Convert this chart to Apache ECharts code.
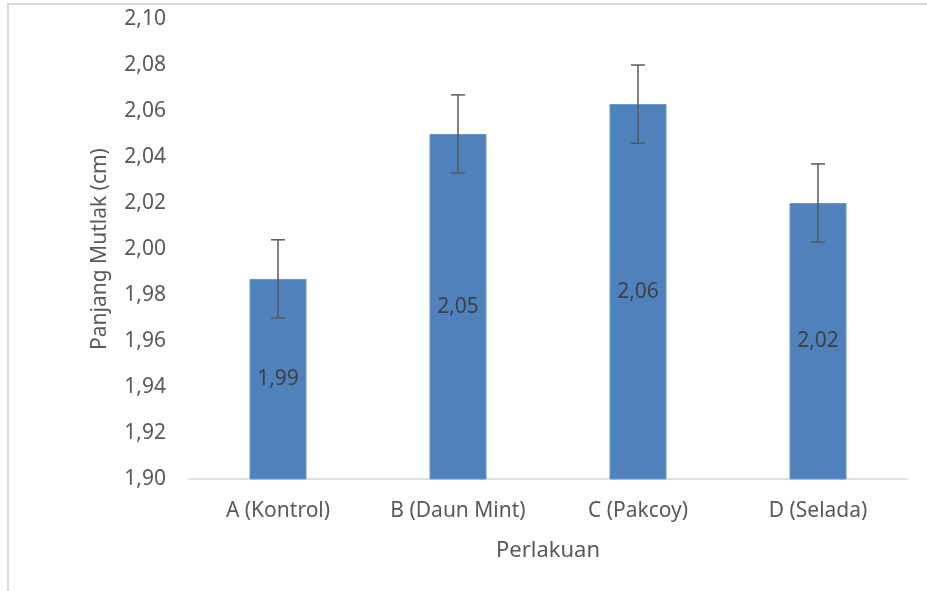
<!DOCTYPE html>
<html>
<head>
<meta charset="utf-8">
<script src="https://cdn.jsdelivr.net/npm/echarts@6/dist/echarts.min.js"></script>
<style>html,body{margin:0;padding:0;background:#fff;}#c{width:927px;height:591px;}</style>
</head>
<body>
<div id="c"></div>
<script>
const categories = ['A (Kontrol)', 'B (Daun Mint)', 'C (Pakcoy)', 'D (Selada)'];
const values = [1.987, 2.050, 2.063, 2.020];
const errors = [0.017, 0.017, 0.017, 0.017];
const yTicks = { min: 1.90, max: 2.10, interval: 0.02 };

const fmt = v => v.toFixed(2).replace('.', ',');
const FONT = 'Noto Sans';

const chart = echarts.init(document.getElementById('c'), null, { renderer: 'canvas' });
chart.setOption({
  animation: false,
  textStyle: { fontFamily: FONT },
  graphic: [{
    type: 'rect', shape: { x: 8, y: 4, width: 1000, height: 1000 },
    style: { fill: 'none', stroke: '#d9d9d9', lineWidth: 2 }, silent: true, z: -1
  }],
  grid: { left: 188, right: 19, top: 19, bottom: 112 },
  xAxis: {
    type: 'category', data: categories,
    name: 'Perlakuan', nameLocation: 'middle', nameGap: 61,
    nameTextStyle: { fontSize: 22, color: '#595959', fontFamily: FONT },
    axisLine: { lineStyle: { color: '#d9d9d9', width: 1.5 } },
    axisTick: { show: false },
    axisLabel: { fontSize: 21, color: '#595959', margin: 22, fontFamily: FONT }
  },
  yAxis: {
    type: 'value', min: yTicks.min, max: yTicks.max, interval: yTicks.interval,
    name: 'Panjang Mutlak (cm)', nameLocation: 'middle', nameGap: 77,
    nameTextStyle: { fontSize: 21, color: '#595959', fontFamily: FONT },
    axisLine: { show: false }, axisTick: { show: false },
    splitLine: { show: false },
    axisLabel: { fontSize: 21, color: '#595959', margin: 22, fontFamily: FONT, formatter: v => fmt(v) }
  },
  series: [{
    type: 'bar', data: values, barWidth: 57,
    itemStyle: { color: '#4F81BD', borderColor: '#6a95c9', borderWidth: 1 },
    label: { show: true, position: 'inside', fontSize: 21, color: '#404040', fontFamily: FONT, formatter: p => fmt(p.value) }
  }, {
    type: 'custom',
    data: values.map((v, i) => [i, v - errors[i], v + errors[i]]),
    renderItem: (params, api) => {
      const lo = api.coord([api.value(0), api.value(1)]);
      const hi = api.coord([api.value(0), api.value(2)]);
      const x = lo[0], hw = 7;
      const st = { stroke: '#595959', lineWidth: 1.5 };
      return { type: 'group', children: [
        { type: 'line', shape: { x1: x, y1: lo[1], x2: x, y2: hi[1] }, style: st },
        { type: 'line', shape: { x1: x - hw, y1: lo[1], x2: x + hw, y2: lo[1] }, style: st },
        { type: 'line', shape: { x1: x - hw, y1: hi[1], x2: x + hw, y2: hi[1] }, style: st }
      ]};
    },
    z: 10
  }]
});
</script>
</body>
</html>
